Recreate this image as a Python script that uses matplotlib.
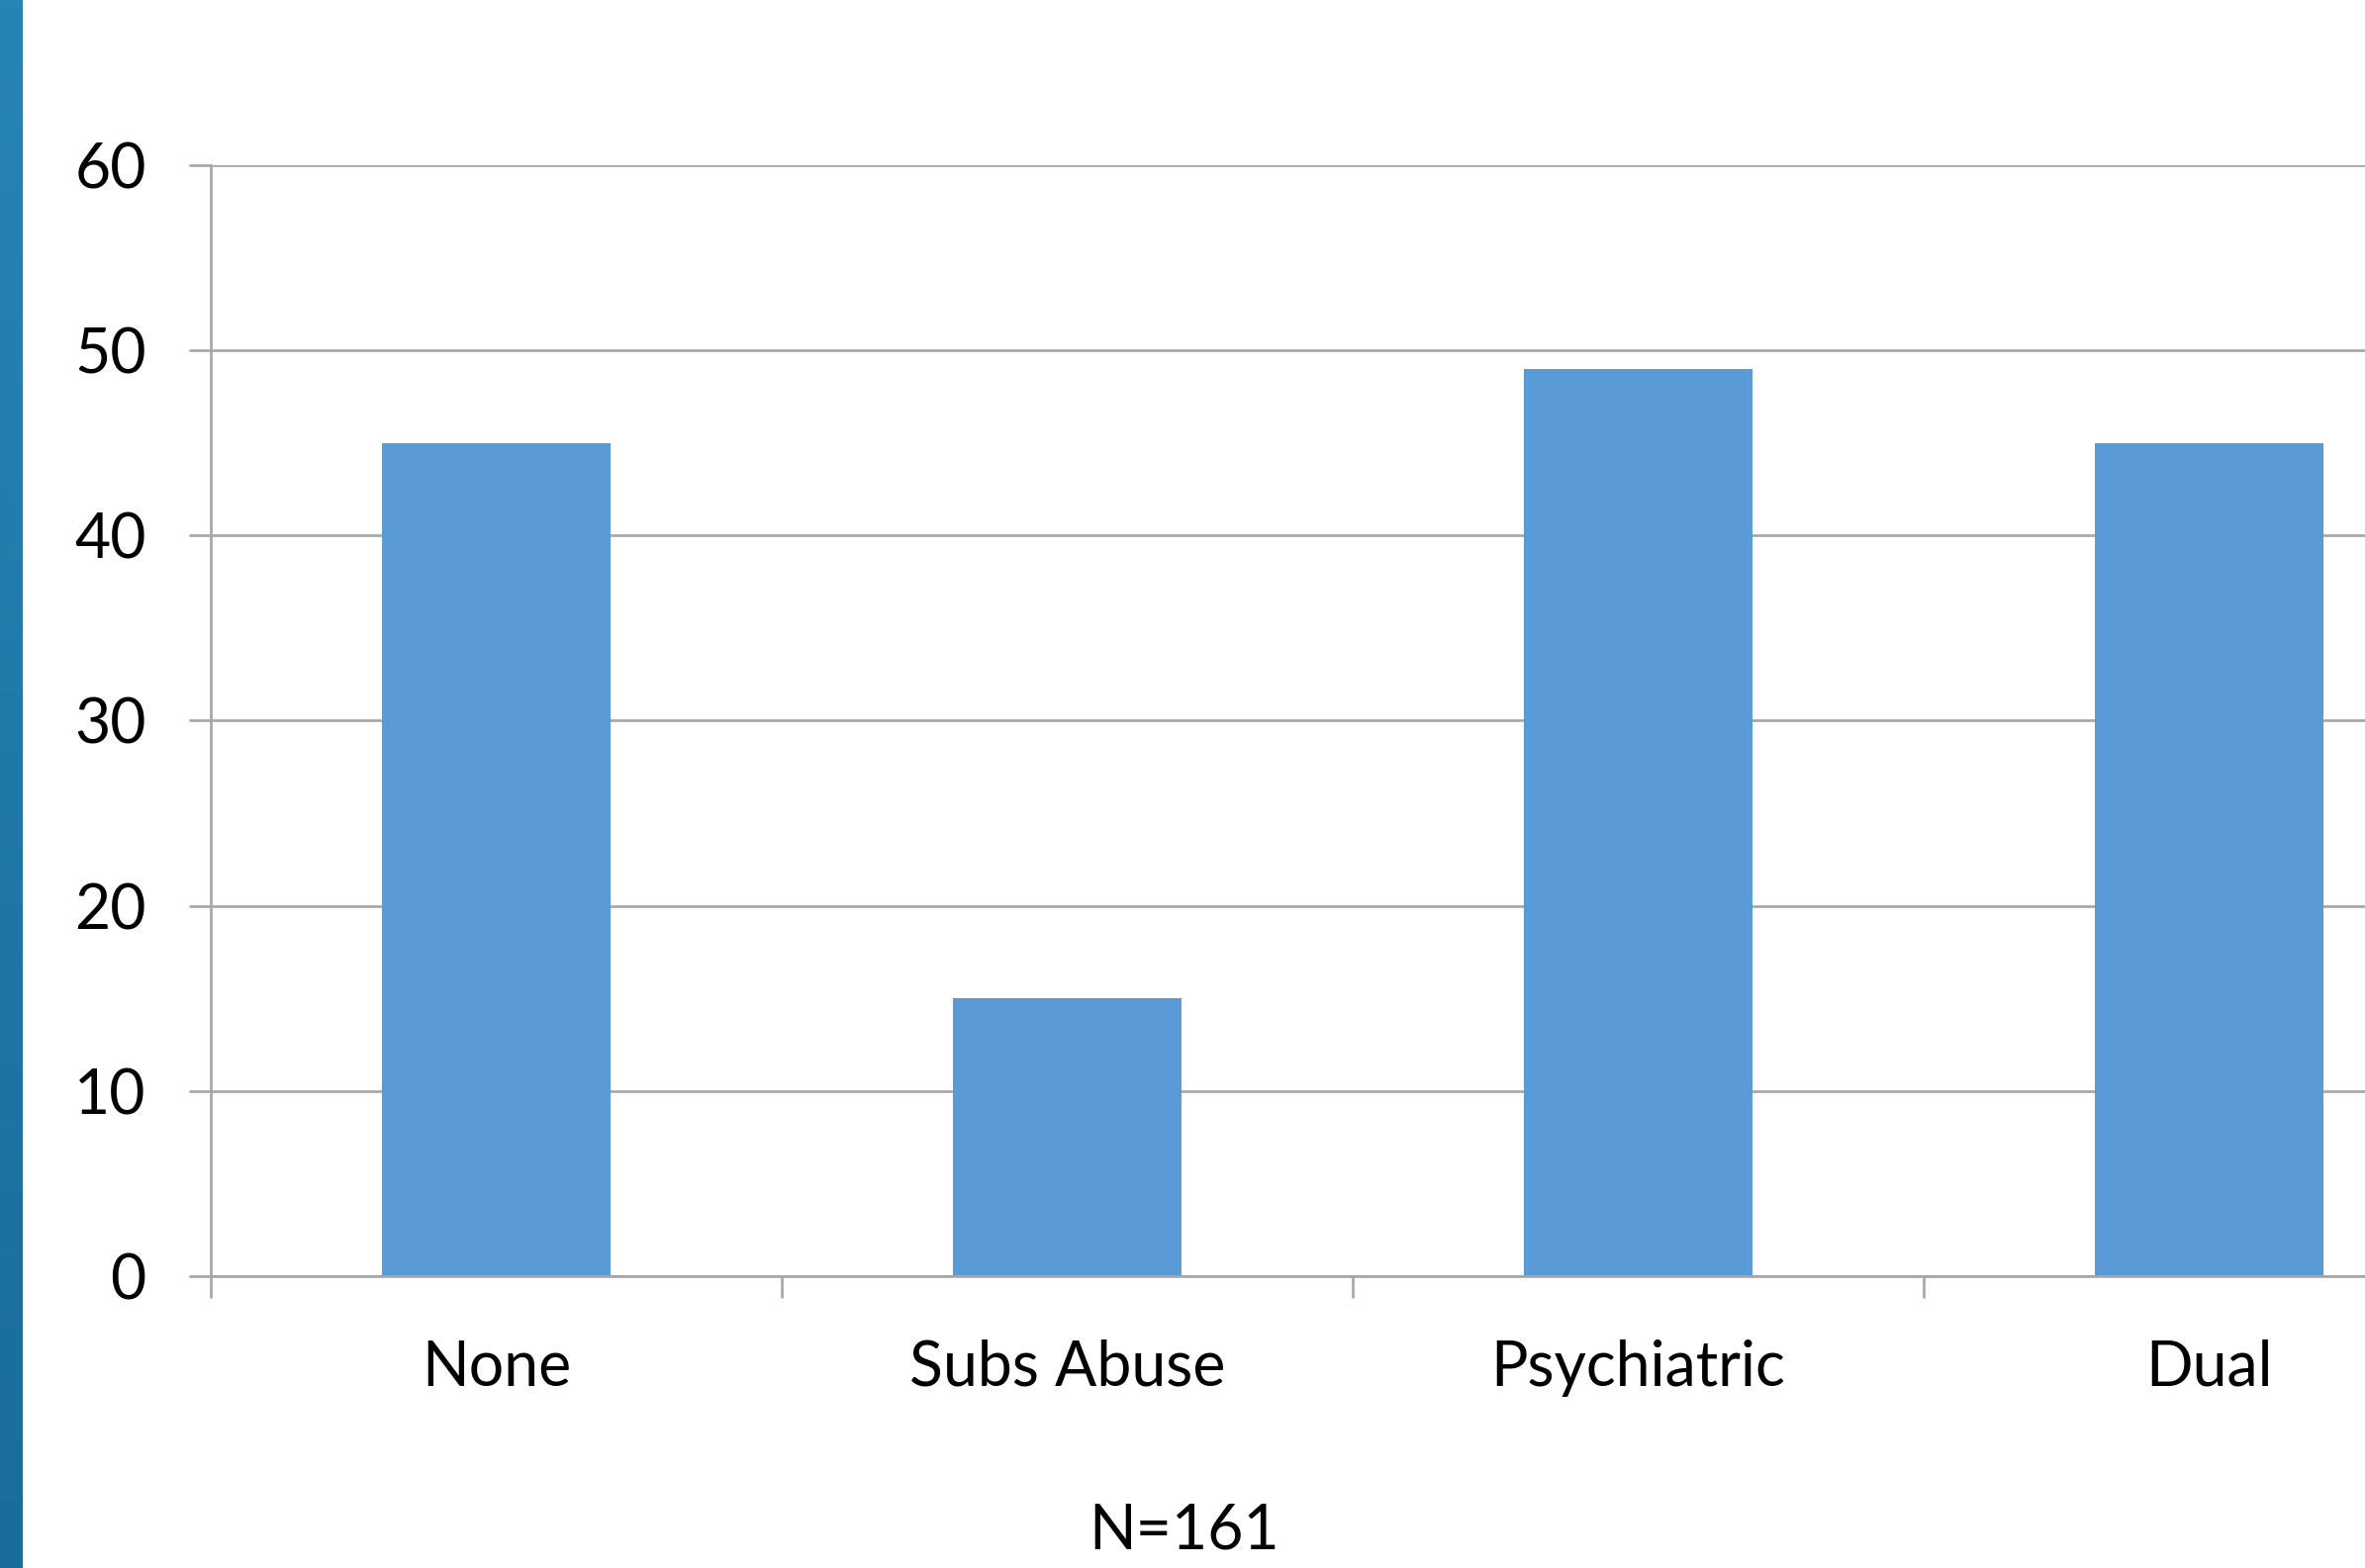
import numpy as np
import matplotlib
matplotlib.use("Agg")
import matplotlib.pyplot as plt
from matplotlib.colors import LinearSegmentedColormap

# data
categories = ["None", "Subs Abuse", "Psychiatric", "Dual"]
counts = [45, 15, 49, 45]
y_ticks = [0, 10, 20, 30, 40, 50, 60]
note = "N=161"

plt.rcParams['font.family'] = ['Lato', 'DejaVu Sans']

W, H = 2390, 1585
fig = plt.figure(figsize=(W / 100, H / 100), dpi=100)

# blue stripe on the left edge
stripe = fig.add_axes([0, 0, 23 / W, 1])
grad = np.linspace(0, 1, 256).reshape(-1, 1)
cmap = LinearSegmentedColormap.from_list("strip", ["#2785B6", "#1A6C9C"])
stripe.imshow(grad, aspect="auto", cmap=cmap)
stripe.axis("off")

# main axes (runs off the right edge like the reference)
ax_left = 213 / W
ax_bottom = (H - 1290) / H
ax_w = 4 * 577 / W
ax_h = (1290 - 166.7) / H
ax = fig.add_axes([ax_left, ax_bottom, ax_w, ax_h])

grid_col = "#A6A6A6"
fs = 45
x = np.arange(len(categories))
ax.bar(x, counts, width=0.4, color="#5B9BD5", zorder=3)

ax.set_xlim(-0.5, len(categories) - 0.5)
ax.set_ylim(0, 60)
ax.set_yticks(y_ticks)
ax.yaxis.grid(True, color=grid_col, linewidth=1.9, zorder=0)
ax.set_axisbelow(True)

for s in ["top", "right"]:
    ax.spines[s].set_visible(False)
for s in ["left", "bottom"]:
    ax.spines[s].set_color(grid_col)
    ax.spines[s].set_linewidth(1.9)
    ax.spines[s].set_zorder(4)

# category boundary ticks, labels at centres
ax.set_xticks(np.arange(-0.5, len(categories) + 0.5, 1.0))
ax.set_xticklabels([])
ax.set_xticks(x, minor=True)
ax.set_xticklabels(categories, minor=True)
ax.tick_params(axis="x", which="major", length=16, width=1.9, color=grid_col)
ax.tick_params(axis="x", which="minor", length=0, pad=46, labelsize=fs)
ax.tick_params(axis="y", length=16, width=1.9, color=grid_col, pad=31, labelsize=fs)

fig.text(1197 / W, (H - 1565) / H, note, ha="center", va="baseline", fontsize=fs)

fig.savefig("out.png", dpi=100, facecolor="white")
